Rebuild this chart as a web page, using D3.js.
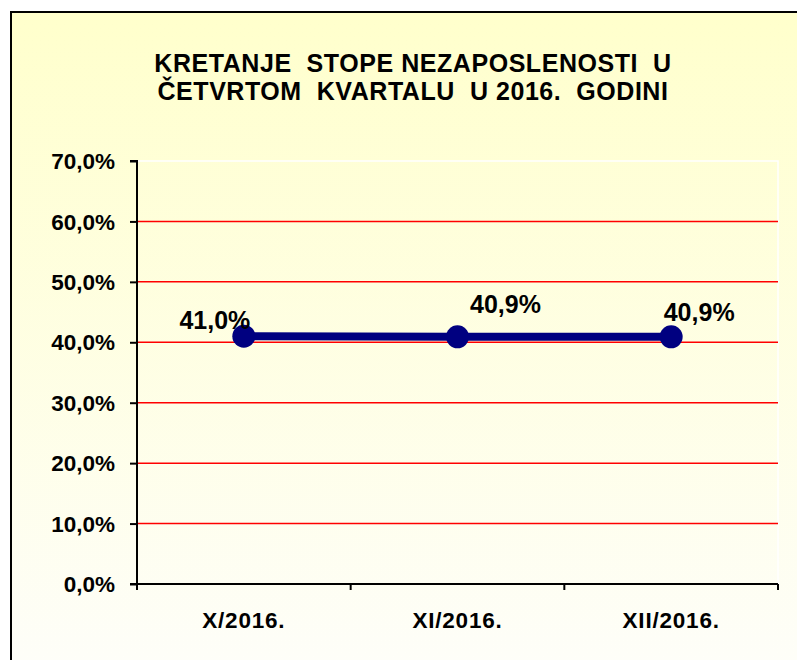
<!DOCTYPE html>
<html>
<head>
<meta charset="utf-8">
<script src="https://cdn.jsdelivr.net/npm/d3@7"></script>
<style>
  html, body { margin: 0; padding: 0; background: #ffffff; }
  svg { display: block; }
  text { font-family: Arial, "Liberation Sans", sans-serif; font-weight: bold; fill: #000; }
</style>
</head>
<body>
<svg id="chart" width="797" height="660"></svg>
<script>
// ---- data ----
const categories = ["X/2016.", "XI/2016.", "XII/2016."];
const values = [41.0, 40.9, 40.9];
const valueLabels = ["41,0%", "40,9%", "40,9%"];
const yTicks = [0, 10, 20, 30, 40, 50, 60, 70];
const titleLines = ["KRETANJE  STOPE NEZAPOSLENOSTI  U", "ČETVRTOM  KVARTALU  U 2016.  GODINI"];
// manual label offsets (dx, dy relative to point)
const labelDx = [-29, 48, 28];
const labelDy = [-7, -24, -16];

const W = 797, H = 660;
const svg = d3.select("#chart");

// background gradient
const defs = svg.append("defs");
const grad = defs.append("linearGradient").attr("id", "bg").attr("x1", 0).attr("y1", 0).attr("x2", 0).attr("y2", 1);
grad.append("stop").attr("offset", "0%").attr("stop-color", "#FFFFCC");
grad.append("stop").attr("offset", "100%").attr("stop-color", "#FEFEFA");

svg.append("rect").attr("x", 0).attr("y", 0).attr("width", W).attr("height", H).attr("fill", "#ffffff");
svg.append("rect").attr("x", 11).attr("y", 12).attr("width", W + 10).attr("height", H + 10)
  .attr("fill", "url(#bg)").attr("stroke", "#000").attr("stroke-width", 2);

// title
svg.append("g").selectAll("text").data(titleLines).join("text")
  .attr("x", 413).attr("y", (d, i) => 72 + i * 28)
  .attr("text-anchor", "middle")
  .attr("font-size", 25)
  .attr("letter-spacing", 0.55)
  .style("white-space", "pre")
  .attr("xml:space", "preserve")
  .text(d => d);

const m = { left: 137, right: 778, top: 161, bottom: 584 };
const x = d3.scaleBand().domain(categories).range([m.left, m.right]).padding(0);
const y = d3.scaleLinear().domain([0, 70]).range([m.bottom, m.top]);

// plot area border
svg.append("rect").attr("x", m.left).attr("y", m.top)
  .attr("width", m.right - m.left).attr("height", m.bottom - m.top)
  .attr("fill", "none").attr("stroke", "#ffffff").attr("stroke-width", 1.5);

// gridlines
svg.append("g").selectAll("line").data(yTicks.filter(t => t > 0 && t < 70)).join("line")
  .attr("x1", m.left).attr("x2", m.right)
  .attr("y1", d => y(d)).attr("y2", d => y(d))
  .attr("stroke", "#FF0000").attr("stroke-width", 1.5);

// y axis
const yAxis = d3.axisLeft(y).tickValues(yTicks).tickSize(7).tickPadding(15)
  .tickFormat(d => d3.format(".1f")(d).replace(".", ",") + "%");
const gy = svg.append("g").attr("transform", `translate(${m.left},0)`).call(yAxis);
gy.select(".domain").attr("stroke", "#000").attr("stroke-width", 2).attr("d", `M-7,${m.top}H0V${m.bottom}`);
gy.selectAll(".tick line").attr("stroke", "#000").attr("stroke-width", 2);
gy.selectAll(".tick text").attr("font-size", 22.5).attr("font-family", "Arial, 'Liberation Sans', sans-serif")
  .attr("font-weight", "bold").attr("fill", "#000").attr("dy", "0.34em");

// x axis
const xAxis = d3.axisBottom(x).tickSize(0).tickPadding(28);
const gx = svg.append("g").attr("transform", `translate(0,${m.bottom})`).call(xAxis);
gx.select(".domain").attr("stroke", "#000").attr("stroke-width", 2).attr("d", `M${m.left - 7},0H${m.right}`);
gx.selectAll(".tick text").attr("font-size", 22.5).attr("letter-spacing", 0.8)
  .attr("font-family", "Arial, 'Liberation Sans', sans-serif")
  .attr("font-weight", "bold").attr("fill", "#000");
// category boundary ticks
const bounds = categories.map(c => x(c)).concat([x(categories[categories.length - 1]) + x.bandwidth()]);
gx.append("g").selectAll("line").data(bounds).join("line")
  .attr("x1", d => d).attr("x2", d => d).attr("y1", 0).attr("y2", 6)
  .attr("stroke", "#000").attr("stroke-width", 2);

// line
const cx = (d, i) => x(categories[i]) + x.bandwidth() / 2;
const line = d3.line().x((d, i) => cx(d, i)).y(d => y(d));
svg.append("path").datum(values).attr("d", line)
  .attr("fill", "none").attr("stroke", "#000080").attr("stroke-width", 8);

svg.append("g").selectAll("circle").data(values).join("circle")
  .attr("cx", cx).attr("cy", d => y(d)).attr("r", 11.5)
  .attr("fill", "#000080");

// data labels
svg.append("g").selectAll("text").data(values).join("text")
  .attr("x", (d, i) => cx(d, i) + labelDx[i])
  .attr("y", (d, i) => y(d) + labelDy[i])
  .attr("text-anchor", "middle")
  .attr("font-size", 25)
  .text((d, i) => valueLabels[i]);
</script>
</body>
</html>
